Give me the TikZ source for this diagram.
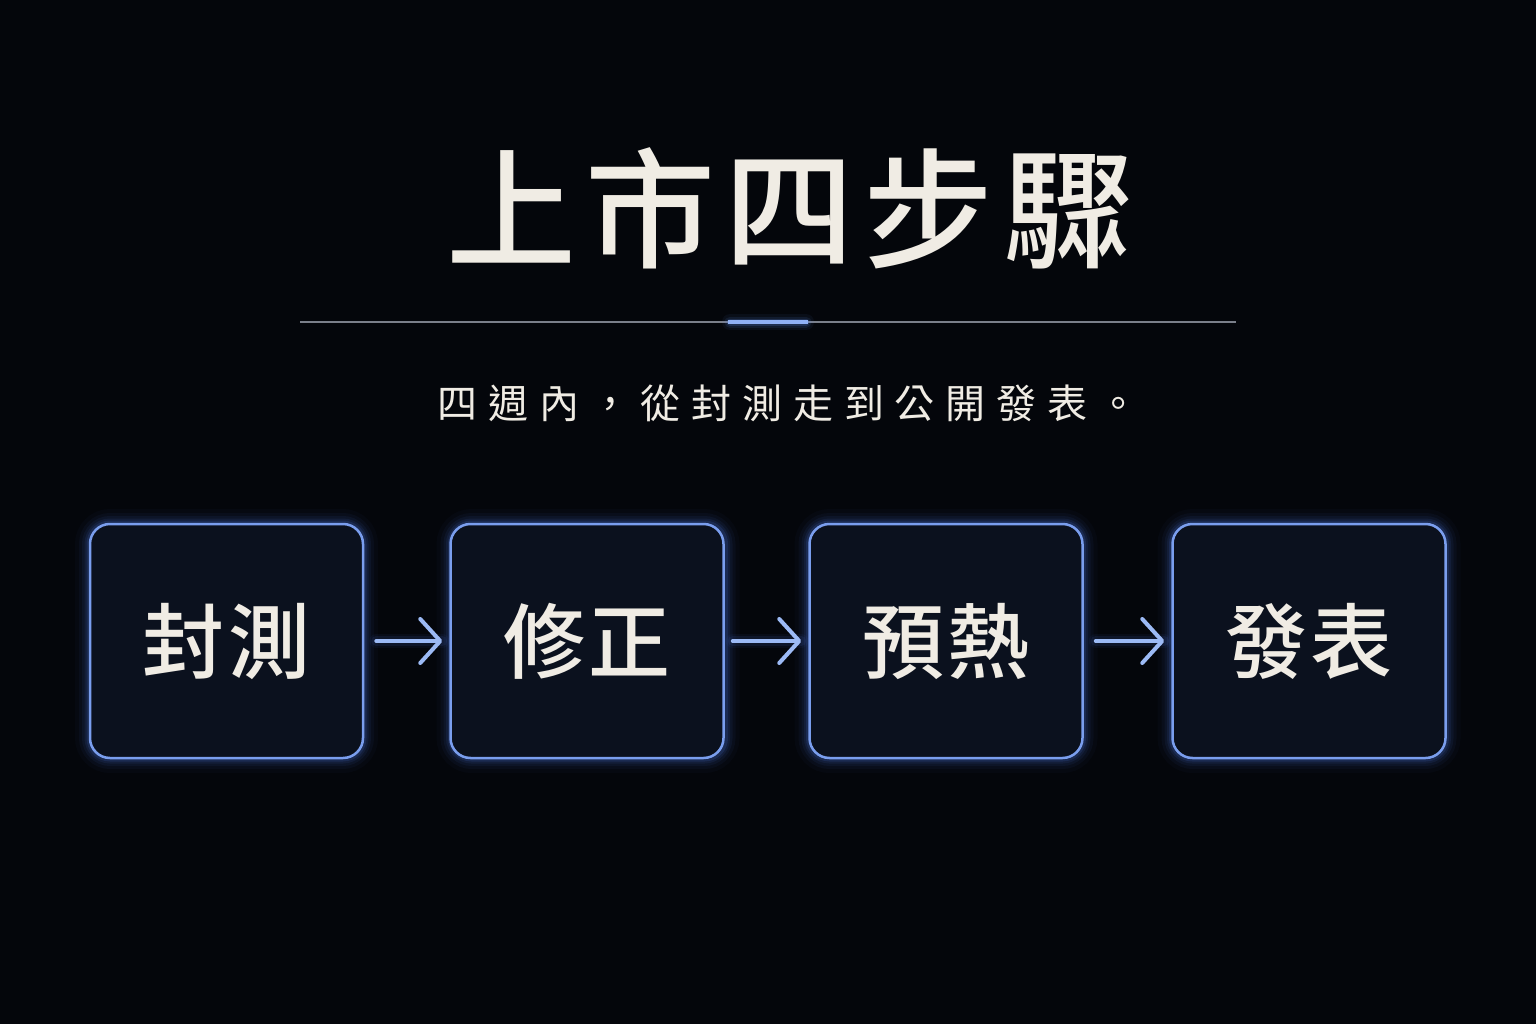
\documentclass[tikz,border=0pt]{standalone}
\usepackage{fontspec}
\newfontfamily\cjk{Noto Sans CJK TC}
\newfontfamily\cjkm{Noto Sans CJK TC Medium}
\usetikzlibrary{arrows.meta}
\definecolor{bgc}{HTML}{04060B}
\definecolor{tint}{HTML}{1E2A48}
\definecolor{boxfill}{HTML}{0B111E}
\definecolor{edgec}{HTML}{7A9EEE}
\definecolor{glowc}{HTML}{4A72D8}
\definecolor{txtc}{HTML}{F0ECE4}
\definecolor{rulec}{HTML}{7A7F8A}
\definecolor{accent}{HTML}{5F8EF0}
\definecolor{arrc}{HTML}{9CBAF5}
\tikzset{
  stepbox/.style={draw=edgec, line width=2.5pt, fill=boxfill, rounded corners=20pt,
    minimum width=273pt, minimum height=234pt, inner sep=0pt,
    text=txtc, font=\cjkm\fontsize{82}{82}\selectfont\addfontfeature{LetterSpace=4}},
  flowarrow/.style={draw=arrc, line width=4pt, line cap=round,
    -{Straight Barb[length=20pt, width=44pt, line width=4pt, round]}},
  arrowglow/.style={draw=glowc, line cap=round},
}
\begin{document}
\begin{tikzpicture}[x=1pt,y=-1pt]
\useasboundingbox (0,0) rectangle (1536,1024);
\fill[bgc] (0,0) rectangle (1536,1024);
% soft vignette centre
\foreach \r in {760,730,...,250}{
  \fill[tint, opacity=0.012] (768,520) ellipse ({\r*1.25} and \r);
}
% title
\node[text=txtc, font=\cjkm\fontsize{130}{130}\selectfont\addfontfeature{LetterSpace=7}] (title) at (790,208) {上市四步驟};
% rule
\coordinate (rl) at (300,322);
\coordinate (rr) at (1236,322);
\draw[rulec, line width=1.2pt] (rl) -- (rr);
\foreach \w/\o in {16/0.06,11/0.1,7/0.18}{
  \draw[accent, line width=\w pt, opacity=\o, line cap=round] (730,322) -- (806,322);
}
\draw[accent!70!white, line width=4pt] (728,322) -- (808,322);
% subtitle
\node[text=txtc, font=\cjk\fontsize{40}{40}\selectfont\addfontfeature{LetterSpace=27}] (sub) at (788,403) {四週內，從封測走到公開發表。};
% boxes with glow
\foreach \cx in {226.5, 588, 946, 1309}{
  \foreach \w/\o in {30/0.03,22/0.05,16/0.07,11/0.1,7/0.16}{
    \draw[glowc, line width=\w pt, opacity=\o, rounded corners=20pt]
      (\cx-136.5,524) rectangle (\cx+136.5,758);
  }
}
\node[stepbox] (b1) at (226.5,641) {封測};
\node[stepbox] (b2) at (587,641) {修正};
\node[stepbox] (b3) at (946,641) {預熱};
\node[stepbox] (b4) at (1309,641) {發表};
% arrows
\foreach \a/\b/\s in {b1/b2/12, b2/b3/8, b3/b4/12}{
  \foreach \w/\o in {14/0.06,10/0.1}{
    \draw[arrowglow, line width=\w pt, opacity=\o] ([xshift=\s pt]\a.east) -- ([xshift=-7pt]\b.west);
  }
  \draw[flowarrow] ([xshift=\s pt]\a.east) -- ([xshift=-7pt]\b.west);
}
\end{tikzpicture}
\end{document}
